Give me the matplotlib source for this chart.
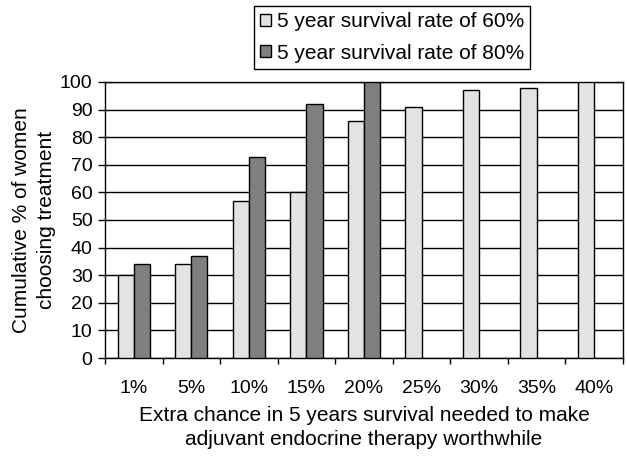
import numpy as np
import matplotlib.pyplot as plt
from matplotlib.patches import Patch

plt.rcParams['font.family'] = ['Liberation Sans', 'DejaVu Sans']

# Datos
categorias = ['1%', '5%', '10%', '15%', '20%', '25%', '30%', '35%', '40%']
tasa_60 = [30, 34, 57, 60, 86, 91, 97, 98, 100]
tasa_80 = [34, 37, 73, 92, 100]
etiquetas = ['5 year survival rate of 60%', '5 year survival rate of 80%']

fig = plt.figure(figsize=(6.27, 4.57), dpi=100)
ax = fig.add_axes([0.1675, 0.2166, 0.826, 0.604])

x = np.arange(len(categorias))
ancho = 0.28
ax.bar(x - ancho / 2, tasa_60, ancho, color='#e3e3e3', edgecolor='black', linewidth=1, zorder=3)
x80 = np.arange(len(tasa_80))
ax.bar(x80 + ancho / 2, tasa_80, ancho, color='#7f7f7f', edgecolor='black', linewidth=1, zorder=3)

ax.set_xlim(-0.5, len(categorias) - 0.5)
ax.set_ylim(0, 100)
ax.set_yticks(range(0, 101, 10))
ax.yaxis.grid(True, color='black', linewidth=1, zorder=0)
ax.set_xticks(x)
ax.set_xticklabels(categorias)
ax.tick_params(axis='x', which='major', length=0, pad=16, labelsize=14)
ax.set_xticks(np.arange(-0.5, len(categorias)), minor=True)
ax.tick_params(axis='x', which='minor', length=4, width=1, direction='out')
ax.tick_params(axis='y', length=5, width=1, labelsize=14, pad=4)

for s in ax.spines.values():
    s.set_linewidth(1)

ax.set_ylabel('Cumulative % of women\nchoosing treatment', fontsize=15, linespacing=1.4, labelpad=3)
ax.set_xlabel('Extra chance in 5 years survival needed to make\nadjuvant endocrine therapy worthwhile',
              fontsize=15, linespacing=1.35, labelpad=6)

manejadores = [Patch(facecolor='#e3e3e3', edgecolor='black'),
               Patch(facecolor='#7f7f7f', edgecolor='black')]
fig.legend(manejadores, etiquetas, loc='upper left', bbox_to_anchor=(0.405, 0.987),
           fancybox=False, edgecolor='black', framealpha=1, fontsize=15,
           handlelength=0.5, handleheight=0.5, handletextpad=0.3,
           borderpad=0.3, labelspacing=0.6, borderaxespad=0)

fig.savefig('out.png', dpi=100)
